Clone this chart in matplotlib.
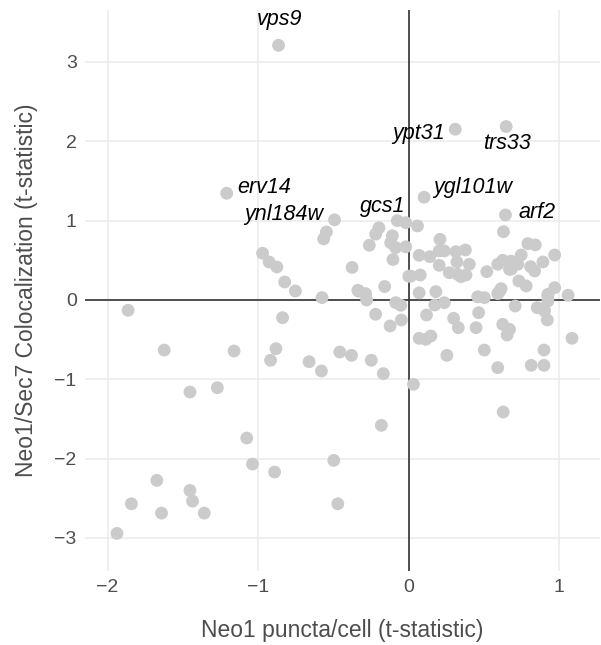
import numpy as np
import matplotlib
matplotlib.use("Agg")
import matplotlib.pyplot as plt

plt.rcParams['font.family'] = ['Liberation Sans', 'DejaVu Sans']

# Neo1 puncta/cell (t) vs Neo1/Sec7 colocalization (t), one point per gene
puncta = [
    -0.865, -1.209, -0.493, -0.547, -0.565, -0.198, -0.220, -0.262, -0.076, -0.020,
    -0.109, -0.120, -0.087, -0.020, -0.105, -0.971, -0.927, -0.876, -0.824, -0.753,
    -0.576, -0.376, -0.331, -0.287, -0.160, 0.000, 0.309, 0.647, 0.102, 0.642,
    0.629, 0.058, 0.207, 0.069, 0.140, 0.202, 0.236, 0.313, 0.376, 0.320,
    0.402, 0.202, 0.269, 0.324, 0.347, 0.380, 0.013, 0.076, 0.518, 0.591,
    0.624, 0.680, 0.747, 0.791, 0.840, 0.669, 0.724, 0.809, 0.836, 0.891,
    0.969, 0.602, 0.731, 0.780, 0.969, 0.924, 1.058, 0.069, 0.180, 0.458,
    0.502, 0.680, -0.338, -0.287, -0.280, 0.173, 0.236, -0.087, -0.053, -0.220,
    -0.124, -0.049, 0.118, 0.298, 0.329, 0.069, 0.113, 0.147, 0.464, 0.447,
    0.591, 0.613, 0.707, 0.624, 0.669, 0.653, 0.853, 0.902, 0.920, 0.924,
    0.924, 1.084, -0.458, -0.380, -0.249, -0.169, 0.253, 0.502, 0.591, 0.813,
    0.898, 0.898, 0.031, 0.627, -0.182, -1.864, -1.624, -1.160, -0.882, -0.918,
    -0.838, -0.662, -0.580, -1.453, -1.271, -1.076, -1.038, -0.891, -0.498, -0.471,
    -1.673, -1.842, -1.642, -1.453, -1.436, -1.358, -1.938,
]
coloc = [
    3.21, 1.345, 1.01, 0.857, 0.77, 0.91, 0.83, 0.69, 1.00, 0.975,
    0.81, 0.72, 0.66, 0.67, 0.51, 0.589, 0.479, 0.416, 0.227, 0.113,
    0.03, 0.41, 0.11, 0.07, 0.17, 0.30, 2.152, 2.186, 1.295, 1.072,
    0.861, 0.933, 0.765, 0.563, 0.546, 0.618, 0.618, 0.609, 0.63, 0.479,
    0.45, 0.437, 0.344, 0.324, 0.294, 0.315, 0.30, 0.315, 0.357, 0.45,
    0.50, 0.49, 0.567, 0.71, 0.694, 0.387, 0.45, 0.42, 0.366, 0.479,
    0.567, 0.105, 0.24, 0.177, 0.155, 0.072, 0.06, 0.09, 0.105, 0.04,
    0.03, 0.387, 0.122, 0.08, 0.00, -0.063, -0.034, -0.034, -0.067, -0.18,
    -0.328, -0.252, -0.189, -0.231, -0.349, -0.483, -0.496, -0.454, -0.16, -0.349,
    0.08, 0.143, -0.076, -0.307, -0.37, -0.441, -0.097, -0.139, -0.252, 0.05,
    -0.013, -0.483, -0.656, -0.698, -0.76, -0.929, -0.698, -0.631, -0.853, -0.824,
    -0.824, -0.631, -1.063, -1.412, -1.58, -0.13, -0.631, -0.643, -0.614, -0.76,
    -0.223, -0.778, -0.895, -1.16, -1.106, -1.74, -2.068, -2.169, -2.022, -2.569,
    -2.274, -2.569, -2.686, -2.40, -2.535, -2.686, -2.942,
]

# labelled genes: (name, index of its point)
gene_names = ['vps9', 'erv14', 'ynl184w', 'gcs1', 'ypt31', 'trs33', 'ygl101w', 'arf2']
gene_idx = [0, 1, 2, 8, 26, 27, 28, 29]
# label placement relative to its point (dx, dy in data units) and alignment
label_pos = {
    'vps9': (0.01, 0.33, 'center'),
    'erv14': (0.067, 0.075, 'left'),
    'ynl184w': (-0.073, 0.063, 'right'),
    'gcs1': (0.055, 0.18, 'right'),
    'ypt31': (-0.067, -0.05, 'right'),
    'trs33': (0.005, -0.21, 'center'),
    'ygl101w': (0.06, 0.126, 'left'),
    'arf2': (0.087, 0.025, 'left'),
}

fig = plt.figure(figsize=(6.01, 6.45), dpi=100)
ax = fig.add_axes([85 / 601, 1 - 571 / 645, 515 / 601, 561 / 645])

ax.scatter(puncta, coloc, s=85, color='#cbcbcb', edgecolors='none', zorder=3)
ax.axhline(0, color='#333333', lw=1.2, zorder=2)
ax.axvline(0, color='#333333', lw=1.2, zorder=2)

for name, i in zip(gene_names, gene_idx):
    dx, dy, ha = label_pos[name]
    ax.text(puncta[i] + dx, coloc[i] + dy, name, style='italic', fontsize=15.5,
            ha=ha, va='center', color='black', zorder=4)

ax.set_xlim(-2.15, 1.27)
ax.set_ylim(-3.416, 3.655)
ax.set_xticks([-2, -1, 0, 1])
ax.set_yticks([-3, -2, -1, 0, 1, 2, 3])
ax.set_xticklabels(['\u22122', '\u22121', '0', '1'])
ax.set_yticklabels(['\u22123', '\u22122', '\u22121', '0', '1', '2', '3'])
ax.grid(True, color='#ebebeb', lw=1.1, zorder=0)
ax.set_axisbelow(True)
for sp in ax.spines.values():
    sp.set_visible(False)
ax.tick_params(length=0, labelsize=14, labelcolor='#4d4d4d', pad=6)

ax.set_xlabel('Neo1 puncta/cell (t-statistic)', fontsize=16.5, color='#4d4d4d', labelpad=16)
ax.set_ylabel('Neo1/Sec7 Colocalization (t-statistic)', fontsize=16.5, color='#4d4d4d', labelpad=12)

fig.savefig('out.png', dpi=100)
